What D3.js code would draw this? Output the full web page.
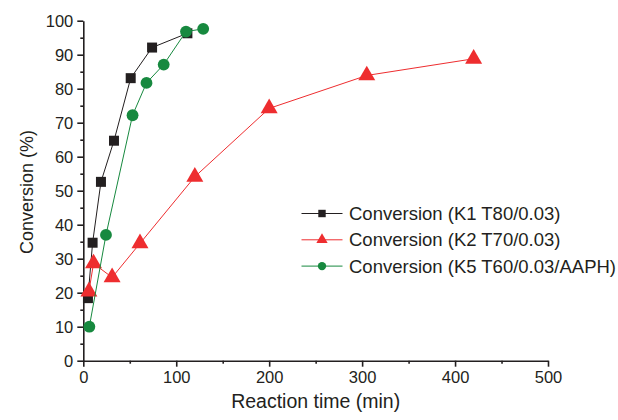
<!DOCTYPE html>
<html>
<head>
<meta charset="utf-8">
<script src="https://cdn.jsdelivr.net/npm/d3@7"></script>
<style>
  body { margin: 0; background: #fff; }
  svg { display: block; font-family: "Liberation Sans", Arial, sans-serif; }
</style>
</head>
<body>
<svg width="618" height="420"></svg>
<script>
// K1 T80/0.03
const k1Time = [5, 10, 19, 33, 51, 74, 112];
const k1Conv = [18.4, 34.7, 52.6, 64.7, 83.1, 92.1, 96.3];
// K2 T70/0.03
const k2Time = [6, 11, 31, 61, 120, 200, 305, 420];
const k2Conv = [20.3, 28.6, 24.5, 34.5, 54.1, 74.2, 83.9, 88.8];
// K5 T60/0.03/AAPH
const k5Time = [6.5, 24.4, 53, 68, 86.5, 110.5, 129];
const k5Conv = [10.0, 37.0, 72.2, 81.7, 87.1, 96.8, 97.6];

const seriesNames = [
  "Conversion (K1 T80/0.03)",
  "Conversion (K2 T70/0.03)",
  "Conversion (K5 T60/0.03/AAPH)"
];
const xTicks = [0, 100, 200, 300, 400, 500];
const yTicks = [0, 10, 20, 30, 40, 50, 60, 70, 80, 90, 100];

const svg = d3.select("svg");
const mLeft = 83.3, mRight = 548, mTop = 20.7, mBottom = 360.7;

const x = d3.scaleLinear().domain([0, 500]).range([mLeft, mRight]);
const y = d3.scaleLinear().domain([0, 100]).range([mBottom, mTop]);

const axisColor = "#231f20";

// minor ticks
svg.append("g")
  .attr("transform", "translate(0," + mBottom + ")")
  .call(d3.axisBottom(x).tickValues(d3.range(50, 500, 100)).tickSize(3).tickFormat(""))
  .call(g => g.select(".domain").remove());
svg.append("g")
  .attr("transform", "translate(" + mLeft + ",0)")
  .call(d3.axisLeft(y).tickValues(d3.range(5, 100, 10)).tickSize(3).tickFormat(""))
  .call(g => g.select(".domain").remove());

let xAxis = svg.append("g")
  .attr("transform", "translate(0," + mBottom + ")")
  .call(d3.axisBottom(x).tickValues(xTicks).tickSize(6).tickPadding(5).tickSizeOuter(0));
let yAxis = svg.append("g")
  .attr("transform", "translate(" + mLeft + ",0)")
  .call(d3.axisLeft(y).tickValues(yTicks).tickSize(6).tickPadding(4).tickSizeOuter(0));

svg.selectAll(".tick line, .domain").attr("stroke", axisColor).attr("stroke-width", 1.6);
svg.selectAll(".tick text")
  .attr("fill", axisColor)
  .style("font-size", "16.5px")
  .style("font-family", "Liberation Sans, Arial, sans-serif");
yAxis.selectAll(".tick text").attr("dy", "0.36em");

// axis titles
svg.append("text")
  .attr("x", (mLeft + mRight) / 2)
  .attr("y", 408)
  .attr("text-anchor", "middle")
  .attr("fill", axisColor)
  .style("font-size", "19.5px")
  .text("Reaction time (min)");
svg.append("text")
  .attr("transform", "translate(33," + 192 + ") rotate(-90)")
  .attr("text-anchor", "middle")
  .attr("fill", axisColor)
  .style("font-size", "18px")
  .text("Conversion (%)");

const series = [
  { time: k1Time, conv: k1Conv, color: "#231f20", shape: d3.symbolSquare, size: 100 },
  { time: k2Time, conv: k2Conv, color: "#ee2d2f", shape: d3.symbolTriangle, size: 125 },
  { time: k5Time, conv: k5Conv, color: "#17893f", shape: d3.symbolCircle, size: 110 }
];

const line = d3.line().x(d => x(d[0])).y(d => y(d[1]));

series.forEach(s => {
  const pts = s.time.map((t, i) => [t, s.conv[i]]);
  svg.append("path")
    .datum(pts)
    .attr("d", line)
    .attr("fill", "none")
    .attr("stroke", s.color)
    .attr("stroke-width", 1);
  svg.selectAll(null)
    .data(pts)
    .enter()
    .append("path")
    .attr("d", d3.symbol().type(s.shape).size(s.size))
    .attr("transform", d => "translate(" + x(d[0]) + "," + y(d[1]) + ")")
    .attr("fill", s.color);
});

// legend
const legend = svg.append("g");
series.forEach((s, i) => {
  const ly = 213.5 + i * 26.3;
  legend.append("line")
    .attr("x1", 301.5).attr("x2", 342.5)
    .attr("y1", ly).attr("y2", ly)
    .attr("stroke", s.color).attr("stroke-width", 1);
  legend.append("path")
    .attr("d", d3.symbol().type(s.shape).size(55))
    .attr("transform", "translate(322," + ly + ")")
    .attr("fill", s.color);
  legend.append("text")
    .attr("x", 349)
    .attr("y", ly)
    .attr("dy", "0.36em")
    .attr("fill", axisColor)
    .style("font-size", "18.5px")
    .text(seriesNames[i]);
});
</script>
</body>
</html>
